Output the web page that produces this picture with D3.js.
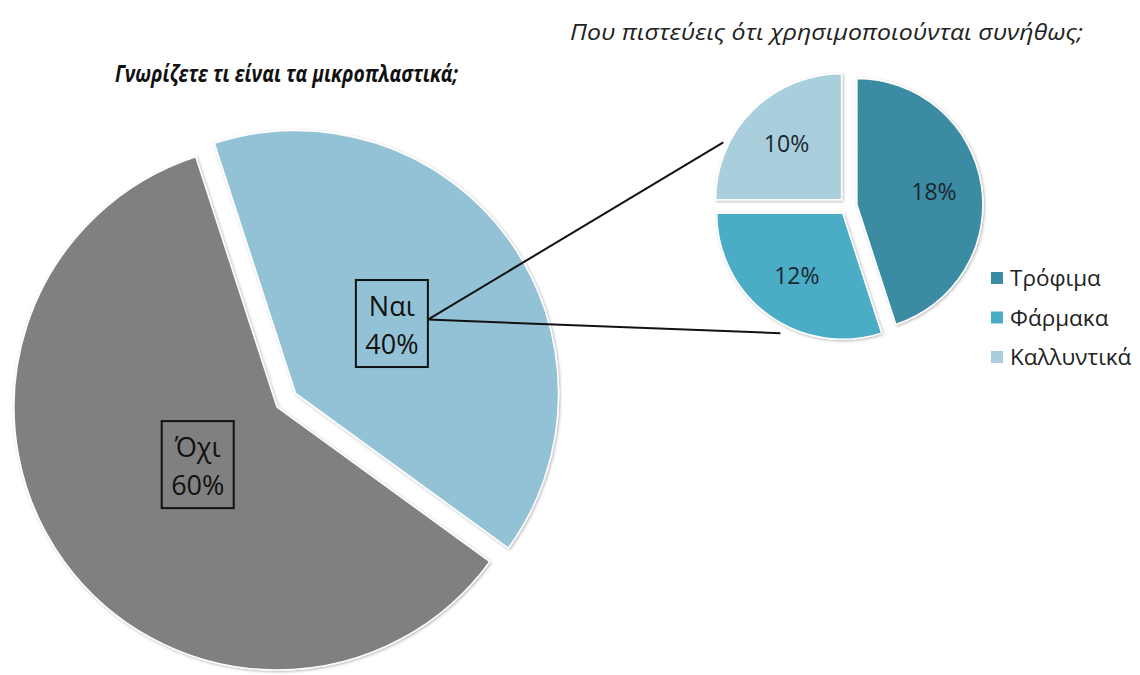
<!DOCTYPE html>
<html lang="el">
  <head>
    <meta charset="UTF-8" />
    <title>μικροπλαστικά - d3</title>
    <script src="https://d3js.org/d3.v7.min.js"></script>
  </head>
  <style>
    html,
    body {
      margin: 0;
      padding: 0;
      background: #fff;
    }
    text {
      font-family: "Open Sans", "Noto Sans", sans-serif;
    }
  </style>
  <body>
    <script>
      // δεδομένα
      var mainCats = ["Ναι", "Όχι"];
      var mainVals = [40, 60];
      var subCats = ["Τρόφιμα", "Φάρμακα", "Καλλυντικά"];
      var subVals = [18, 12, 10];
      var mainTitle = "Γνωρίζετε τι είναι τα μικροπλαστικά;";
      var subTitle = "Που πιστεύεις ότι χρησιμοποιούνται συνήθως;";

      var mainColors = ["#93c2d6", "#808080"];
      var subColors = ["#3a8ba3", "#4bacc6", "#a9cfdc"];

      var W = 1140,
        H = 675;
      var svg = d3
        .select("body")
        .append("svg")
        .attr("width", W)
        .attr("height", H);

      var defs = svg.append("defs");
      defs
        .append("filter")
        .attr("id", "sh")
        .attr("x", "-10%")
        .attr("y", "-10%")
        .attr("width", "120%")
        .attr("height", "120%")
        .append("feDropShadow")
        .attr("dx", 1)
        .attr("dy", 1)
        .attr("stdDeviation", 1.5)
        .attr("flood-opacity", 0.3);

      var deg = Math.PI / 180;

      // κύρια πίτα
      var mc = [277, 407],
        mr = 263;
      var mainPie = d3
        .pie()
        .sort(null)
        .startAngle(-18 * deg)
        .endAngle(342 * deg);
      var mainArcs = mainPie(mainVals);
      var mainExplode = [23, 0];
      var mainLabelR = [119, 98];
      var arcM = d3.arc().innerRadius(0).outerRadius(mr);

      var gMain = svg
        .append("g")
        .attr("transform", "translate(" + mc[0] + "," + mc[1] + ")");

      function offset(d, dist) {
        var a = (d.startAngle + d.endAngle) / 2;
        return d3.pointRadial(a, dist);
      }

      var mainSlices = gMain
        .selectAll("g.slice")
        .data(mainArcs)
        .enter()
        .append("g")
        .attr("class", "slice")
        .attr("transform", function (d, i) {
          var o = offset(d, mainExplode[i]);
          return "translate(" + o[0] + "," + o[1] + ")";
        });

      mainSlices
        .append("path")
        .attr("d", arcM)
        .attr("fill", function (d, i) {
          return mainColors[i];
        })
        .attr("stroke", "#fff")
        .attr("stroke-width", 1.5)
        .attr("filter", "url(#sh)");

      // ετικέτες με πλαίσιο
      var boxW = 72,
        boxH = 87;
      mainSlices.each(function (d, i) {
        var p = offset(d, mainLabelR[i]);
        var g = d3.select(this);
        g.append("rect")
          .attr("x", p[0] - boxW / 2)
          .attr("y", p[1] - boxH / 2)
          .attr("width", boxW)
          .attr("height", boxH)
          .attr("fill", "none")
          .attr("stroke", "#111")
          .attr("stroke-width", 2);
        g.append("text")
          .attr("x", p[0])
          .attr("y", p[1] - 8)
          .attr("text-anchor", "middle")
          .attr("font-size", 27)
          .attr("fill", "#111")
          .text(mainCats[i]);
        g.append("text")
          .attr("x", p[0])
          .attr("y", p[1] + 30)
          .attr("text-anchor", "middle")
          .attr("font-size", 27)
          .attr("fill", "#111")
          .text(mainVals[i] + "%");
      });

      // δευτερεύουσα πίτα
      var sc = [848, 206],
        sr = 126;
      var subPie = d3.pie().sort(null);
      var subArcs = subPie(subVals);
      var arcS = d3.arc().innerRadius(0).outerRadius(sr);
      var subExplode = 9,
        subLabelR = 78;

      // γραμμές σύνδεσης
      var naiBox = offset(mainArcs[0], mainExplode[0]);
      var nl = offset(mainArcs[0], mainLabelR[0]);
      var lx = mc[0] + naiBox[0] + nl[0] + boxW / 2,
        ly = mc[1] + naiBox[1] + nl[1] - 4;
      var ends = [
        d3.pointRadial(297 * deg, 140),
        d3.pointRadial(208 * deg, 144),
      ];
      svg
        .selectAll("line.conn")
        .data(ends)
        .enter()
        .append("line")
        .attr("class", "conn")
        .attr("x1", lx)
        .attr("y1", ly)
        .attr("x2", function (d) {
          return sc[0] + d[0];
        })
        .attr("y2", function (d) {
          return sc[1] + d[1];
        })
        .attr("stroke", "#111")
        .attr("stroke-width", 2);

      var gSub = svg
        .append("g")
        .attr("transform", "translate(" + sc[0] + "," + sc[1] + ")");

      var subSlices = gSub
        .selectAll("g.slice")
        .data(subArcs)
        .enter()
        .append("g")
        .attr("class", "slice")
        .attr("transform", function (d) {
          var o = offset(d, subExplode);
          return "translate(" + o[0] + "," + o[1] + ")";
        });

      subSlices
        .append("path")
        .attr("d", arcS)
        .attr("fill", function (d, i) {
          return subColors[i];
        })
        .attr("stroke", "#fff")
        .attr("stroke-width", 1.5)
        .attr("filter", "url(#sh)");

      subSlices
        .append("text")
        .attr("transform", function (d) {
          var p = offset(d, subLabelR);
          return "translate(" + p[0] + "," + (p[1] + 8) + ")";
        })
        .attr("text-anchor", "middle")
        .attr("font-size", 23)
        .attr("fill", "#1c2630")
        .text(function (d) {
          return d.data + "%";
        });

      // υπόμνημα
      var leg = svg
        .append("g")
        .attr("transform", "translate(991,278)");
      var li = leg
        .selectAll("g")
        .data(subCats)
        .enter()
        .append("g")
        .attr("transform", function (d, i) {
          return "translate(0," + i * 39.5 + ")";
        });
      li.append("rect")
        .attr("x", 0)
        .attr("y", -6)
        .attr("width", 12)
        .attr("height", 12)
        .attr("fill", function (d, i) {
          return subColors[i];
        });
      li.append("text")
        .attr("x", 19)
        .attr("y", 8)
        .attr("font-size", 22.5)
        .attr("fill", "#222")
        .text(function (d) {
          return d;
        });

      // τίτλοι
      svg
        .append("text")
        .attr("x", 115)
        .attr("y", 82)
        .attr("font-size", 23)
        .attr("font-weight", "bold")
        .attr("font-style", "italic")
        .attr("fill", "#111")
        .attr("textLength", 343)
        .attr("lengthAdjust", "spacingAndGlyphs")
        .text(mainTitle);

      svg
        .append("text")
        .attr("x", 570)
        .attr("y", 40)
        .attr("font-size", 22)
        .attr("font-style", "italic")
        .attr("fill", "#222")
        .attr("textLength", 513)
        .attr("lengthAdjust", "spacingAndGlyphs")
        .text(subTitle);
    </script>
  </body>
</html>
